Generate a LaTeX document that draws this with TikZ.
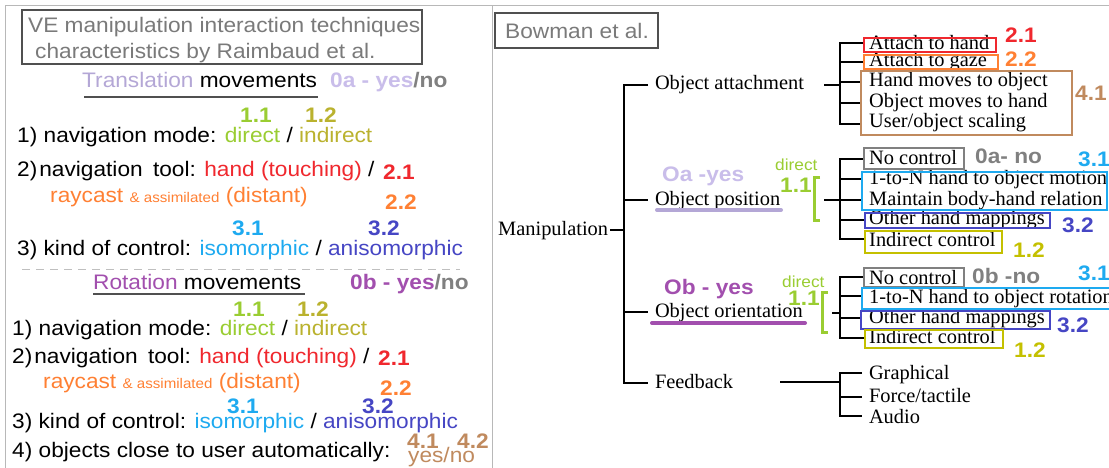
\documentclass[tikz,border=0pt]{standalone}
\usepackage{fontspec}
\newfontfamily\lsans[FakeStretch=1.08]{Liberation Sans}
\newfontfamily\lserif{Liberation Serif}
\definecolor{cFrame}{HTML}{B8B8B8}
\definecolor{cTitle}{HTML}{7A7A7A}
\definecolor{cBoxD}{HTML}{505050}
\definecolor{cLav}{HTML}{B4A7D6}
\definecolor{cLavL}{HTML}{C9BDEA}
\definecolor{cPurp}{HTML}{A24FAE}
\definecolor{cGreen}{HTML}{9ACD32}
\definecolor{cOlive}{HTML}{BAB22E}
\definecolor{cOliveR}{HTML}{C4C000}
\definecolor{cRed}{HTML}{F0282E}
\definecolor{cOrange}{HTML}{FF8033}
\definecolor{cBlue}{HTML}{1EAAF0}
\definecolor{cIndigo}{HTML}{4646C4}
\definecolor{cBrown}{HTML}{C08A5E}
\definecolor{cGray}{HTML}{808080}
\tikzset{
  lt/.style={font=\lsans\fontsize{21}{25}\selectfont, inner sep=0pt, anchor=base west},
  lb/.style={font=\lsans\bfseries\fontsize{21}{25}\selectfont, inner sep=0pt, anchor=base west},
  lsmall/.style={font=\lsans\fontsize{16}{18}\selectfont, inner sep=0pt, anchor=base west},
  sr/.style={font=\lserif\fontsize{20.4}{24}\selectfont, inner sep=0pt, anchor=base west},
  srs/.style={sr, outer xsep=7pt},
  tree/.style={line width=2pt, black},
  cbox/.style={draw=#1, line width=2.5pt, inner sep=0pt, fill=none},
  gbox/.style={draw=cBoxD, line width=1.2pt, inner sep=0pt},
  brk/.style={line width=3pt, cGreen},
  uline/.style={line width=4pt, line cap=round},
}
\begin{document}
\begin{tikzpicture}[x=1pt,y=-1pt]
\useasboundingbox (0,0) rectangle (1109,468);
\fill[white] (0,0) rectangle (1109,468);
% frame
\draw[cFrame, line width=1pt] (5,468) -- (5,6) -- (1109,6);
\draw[cFrame, line width=1pt] (492,6) -- (492,468);

% ================= LEFT PANEL =================
\node[gbox, minimum width=400pt, minimum height=54pt] (tbox) at (222,37) {};
\node[lt, text=cTitle] (t1) at (28,33) {VE manipulation interaction techniques};
\node[lt, text=cTitle] (t2) at (35,59) {characteristics by Raimbaud et al.};

\node[lt] (trh) at (82,88) {\textcolor{cLav}{Translation} movements};
\draw[cBoxD, line width=1.2pt] (84,97) -- (318,97);
\node[lb] (tryn) at (330,88) {\textcolor{cLavL}{0a - yes}\textcolor{cGray}{/no}};
\node[lb, text=cGreen] (ta11) at (240,123) {1.1};
\node[lb, text=cOlive] (ta12) at (305,123) {1.2};
\node[lt] (ta1) at (17,143) {1) navigation mode: \textcolor{cGreen}{direct} / \textcolor{cOlive}{indirect}};
\node[lt] (ta2) at (17,177) {2)\kern2pt navigation\hspace{4pt} tool: \textcolor{cRed}{hand (touching)} /};
\node[lb, text=cRed] (ta21) at (383,180) {2.1};
\node[lt, text=cOrange] (ta2b) at (50,203) {raycast {\fontsize{14}{16}\selectfont \& assimilated} (distant)};
\node[lb, text=cOrange] (ta22) at (385,209) {2.2};
\node[lb, text=cBlue] (ta31) at (232,235) {3.1};
\node[lb, text=cIndigo] (ta32) at (368,235) {3.2};
\node[lt] (ta3) at (17,255) {3) kind of control: \textcolor{cBlue}{isomorphic} / \textcolor{cIndigo}{anisomorphic}};

\draw[black!25, line width=1pt, dash pattern=on 8pt off 6pt] (22,269) -- (460,269);

\node[lt] (roh) at (93,289) {\textcolor{cPurp}{Rotation} movements};
\draw[cBoxD, line width=1.5pt] (93,294) -- (305,294);
\node[lb] (royn) at (350,289) {\textcolor{cPurp}{0b - yes}\textcolor{cGray}{/no}};
\node[lb, text=cGreen] (rb11) at (233,316) {1.1};
\node[lb, text=cOlive] (rb12) at (297,316) {1.2};
\node[lt] (rb1) at (12,335) {1) navigation mode: \textcolor{cGreen}{direct} / \textcolor{cOlive}{indirect}};
\node[lt] (rb2) at (12,363) {2)\kern2pt navigation\hspace{4pt} tool: \textcolor{cRed}{hand (touching)} /};
\node[lb, text=cRed] (rb21) at (378,365) {2.1};
\node[lt, text=cOrange] (rb2b) at (43,388) {raycast {\fontsize{14}{16}\selectfont \& assimilated} (distant)};
\node[lb, text=cOrange] (rb22) at (380,395) {2.2};
\node[lb, text=cBlue] (rb31) at (227,413) {3.1};
\node[lb, text=cIndigo] (rb32) at (362,413) {3.2};
\node[lt] (rb3) at (12,428) {3) kind of control: \textcolor{cBlue}{isomorphic} / \textcolor{cIndigo}{anisomorphic}};
\node[lt] (rb4) at (12,457) {4) objects close to user automatically:};
\node[lb, text=cBrown] (rb41) at (407,448) {4.1};
\node[lb, text=cBrown] (rb42) at (457,448) {4.2};
\node[lt, text=cBrown] (rbyn) at (408,462) {yes/no};

% ================= RIGHT PANEL =================
\node[gbox, minimum width=163pt, minimum height=35pt] (bbox) at (576.5,30.5) {};
\node[font=\lsans\fontsize{21}{25}\selectfont, text=cTitle, inner sep=0pt] (btxt) at (577,31) {Bowman et al.};

% junctions of main trunk
\coordinate (jA) at (624,85);
\coordinate (jM) at (624,230);
\coordinate (jP) at (624,200);
\coordinate (jO) at (624,312);
\coordinate (jF) at (624,383);

\node[sr] (mani) at (498,235) {Manipulation};
\node[srs] (oatt) at (648,90) {Object attachment};
\node[srs] (opos) at (648,205) {Object position};
\node[srs] (oori) at (648,317) {Object orientation};
\node[srs] (feed) at (648,388) {Feedback};

\draw[tree] (jA -| oatt.west) -- (jA) -- (jF) -- (jF -| feed.west);
\draw[tree] (jP) -- (jP -| opos.west);
\draw[tree] (jO) -- (jO -| oori.west);
\draw[tree] ([xshift=2pt]mani.east |- jM) -- (jM);

% ---- Object attachment group
\node[sr] (a1) at (869,50) {Attach to hand};
\node[sr] (a2) at (869,67) {Attach to gaze};
\node[sr] (a3) at (869,87) {Hand moves to object};
\node[sr] (a4) at (869,108) {Object moves to hand};
\node[sr] (a5) at (869,128) {User/object scaling};
\node[cbox=cRed, minimum width=132pt, minimum height=14pt] (ba1) at (930,45) {};
\node[cbox=cOrange, minimum width=134pt, minimum height=14pt] (ba2) at (931,62) {};
\node[cbox=cBrown, minimum width=211pt, minimum height=64pt] (ba3) at (966.5,103) {};
\node[lb, text=cRed] (l21) at (1005,43) {2.1};
\node[lb, text=cOrange] (l22) at (1005,67) {2.2};
\node[lb, text=cBrown] (l41) at (1075,101) {4.1};
\coordinate (sA) at (840,85);
\coordinate (sA1) at (840,43);
\coordinate (sA2) at (840,62);
\coordinate (sA3) at (840,82);
\coordinate (sA4) at (840,103);
\coordinate (sA5) at (840,124);
\coordinate (aOut) at (824,85);
\draw[tree] (aOut) -- (sA);
\draw[tree] (sA1 -| ba1.west) -- (sA1) -- (sA5) -- (sA5 -| ba3.west);
\draw[tree] (sA2) -- (sA2 -| ba2.west);
\draw[tree] (sA3) -- (sA3 -| ba3.west);
\draw[tree] (sA4) -- (sA4 -| ba3.west);

% ---- Object position group
\node[lb, text=cLavL] (pyes) at (662,182) {Oa -yes};
\draw[uline, cLav] (657,210) -- (781,210);
\node[lsmall, text=cGreen] (pdir) at (775,171) {direct};
\node[lb, text=cGreen] (p11) at (780,193) {1.1};
\coordinate (pbT) at (814,178);
\coordinate (pbB) at (814,220);
\draw[brk] ([xshift=6pt]pbT) -- (pbT) -- (pbB) -- ([xshift=6pt]pbB);
\node[sr] (p1) at (869,165) {No control};
\node[sr] (p2) at (869,185) {1-to-N hand to object motion};
\node[sr] (p3) at (869,205) {Maintain body-hand relation};
\node[sr] (p4) at (869,225) {Other hand mappings};
\node[sr] (p5) at (869,246) {Indirect control};
\node[cbox=cGray, minimum width=100pt, minimum height=21pt] (bp1) at (914,158.5) {};
\node[cbox=cBlue, minimum width=245pt, minimum height=38pt] (bp2) at (984.5,191) {};
\node[cbox=cIndigo, minimum width=185pt, minimum height=15pt] (bp4) at (957.5,220.5) {};
\node[cbox=cOliveR, minimum width=137pt, minimum height=22pt] (bp5) at (933.5,242) {};
\node[lb, text=cGray] (p0no) at (975,164) {0a- no};
\node[lb, text=cBlue] (p31) at (1078,167) {3.1};
\node[lb, text=cIndigo] (p32) at (1062,232) {3.2};
\node[lb, text=cOliveR] (p12) at (1013,257) {1.2};
\coordinate (sP) at (840,200);
\coordinate (pOut) at (824,200);
\coordinate (sP1) at (840,159);
\coordinate (sP2) at (840,179);
\coordinate (sP4) at (840,220);
\coordinate (sP5) at (840,239);
\draw[tree] (pOut) -- (sP);
\draw[tree] (sP1 -| bp1.west) -- (sP1) -- (sP5) -- (sP5 -| bp5.west);
\draw[tree] (sP2) -- (sP2 -| bp2.west);
\draw[tree] (sP) -- (sP -| bp2.west);
\draw[tree] (sP4) -- (sP4 -| bp4.west);

% ---- Object orientation group
\node[lb, text=cPurp] (oyes) at (664,294) {Ob - yes};
\draw[uline, cPurp] (652,323) -- (805,323);
\node[lsmall, text=cGreen] (odir) at (782,287) {direct};
\node[lb, text=cGreen] (o11) at (788,305) {1.1};
\coordinate (obT) at (822,292);
\coordinate (obB) at (822,332);
\draw[brk] ([xshift=6pt]obT) -- (obT) -- (obB) -- ([xshift=6pt]obB);
\node[sr] (q1) at (869,284) {No control};
\node[sr] (q2) at (869,303) {1-to-N hand to object rotation};
\node[sr] (q3) at (869,323) {Other hand mappings};
\node[sr] (q4) at (869,343) {Indirect control};
\node[cbox=cGray, minimum width=100pt, minimum height=19pt] (bq1) at (914,277.5) {};
\node[cbox=cBlue, minimum width=260pt, minimum height=21pt] (bq2) at (992,298.5) {};
\node[cbox=cIndigo, minimum width=189pt, minimum height=18pt] (bq3) at (955.5,320) {};
\node[cbox=cOliveR, minimum width=138pt, minimum height=18pt] (bq4) at (934,339) {};
\node[lb, text=cGray] (q0no) at (972,283) {0b -no};
\node[lb, text=cBlue] (q31) at (1078,280) {3.1};
\node[lb, text=cIndigo] (q32) at (1057,332) {3.2};
\node[lb, text=cOliveR] (q12) at (1014,357) {1.2};
\coordinate (sO) at (840,313);
\coordinate (oOut) at (832,313);
\coordinate (sO1) at (840,277);
\coordinate (sO2) at (840,296);
\coordinate (sO3) at (840,318);
\coordinate (sO4) at (840,338);
\draw[tree] (oOut) -- (sO);
\draw[tree] (sO1 -| bq1.west) -- (sO1) -- (sO4) -- (sO4 -| bq4.west);
\draw[tree] (sO2) -- (sO2 -| bq2.west);
\draw[tree] (sO3) -- (sO3 -| bq3.west);

% ---- Feedback group
\node[srs] (f1) at (862,379) {Graphical};
\node[srs] (f2) at (862,402) {Force/tactile};
\node[srs] (f3) at (862,423) {Audio};
\coordinate (sF) at (840,382);
\coordinate (fOut) at (780,382);
\coordinate (sF1) at (840,373);
\coordinate (sF2) at (840,397);
\coordinate (sF3) at (840,416);
\draw[tree] (fOut) -- (sF);
\draw[tree] (sF1 -| f1.west) -- (sF1) -- (sF3) -- (sF3 -| f3.west);
\draw[tree] (sF2) -- (sF2 -| f2.west);
\end{tikzpicture}
\end{document}
